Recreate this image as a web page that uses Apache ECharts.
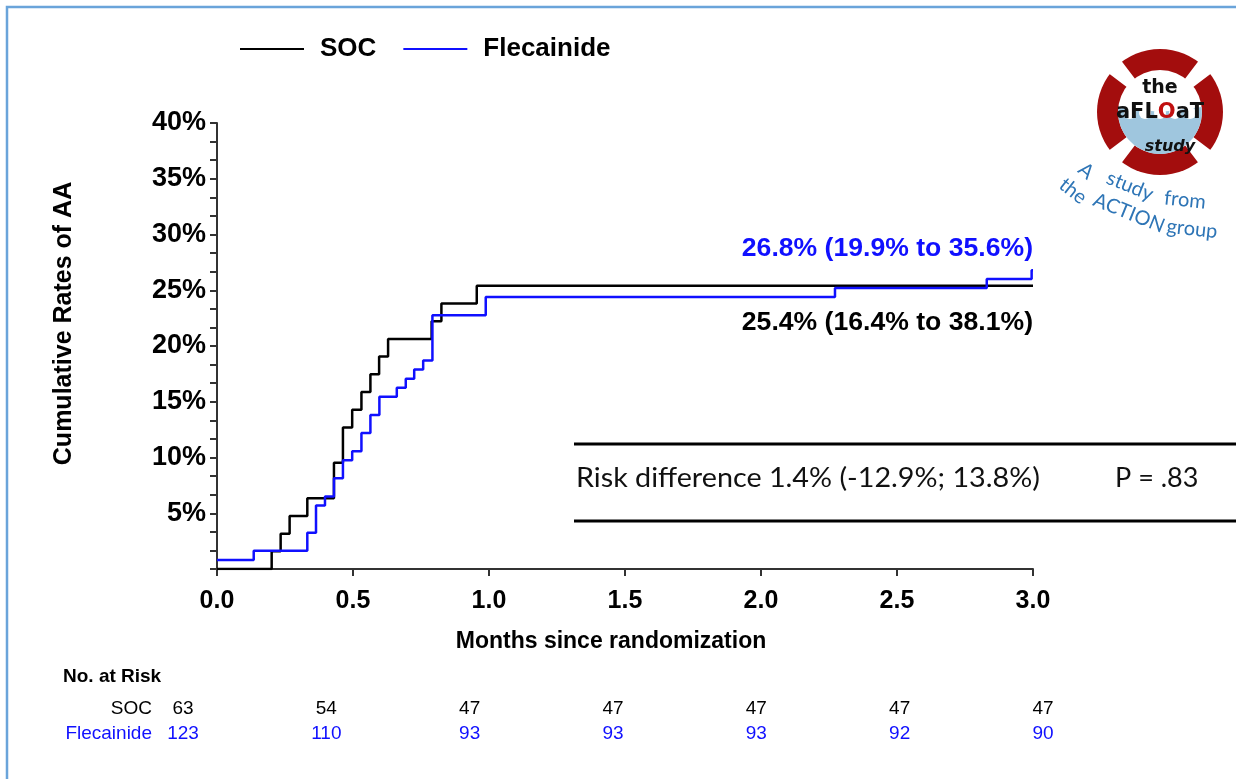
<!DOCTYPE html>
<html>
<head>
<meta charset="utf-8">
<script src="https://cdn.jsdelivr.net/npm/echarts@6/dist/echarts.min.js"></script>
<style>html,body{margin:0;padding:0;background:#fff}#c{width:1236px;height:779px}</style>
</head>
<body>
<div id="c"></div>
<script>
// ---- data ----
const socTimes  = [0, 0.201, 0.234, 0.267, 0.332, 0.430, 0.463, 0.497, 0.531, 0.564, 0.596, 0.629, 0.789, 0.825, 0.955, 3.0];
const socRates  = [0, 1.59, 3.17, 4.76, 6.35, 9.52, 12.70, 14.29, 15.87, 17.46, 19.05, 20.63, 22.22, 23.81, 25.40, 25.40];
const flecTimes = [0, 0.135, 0.332, 0.364, 0.397, 0.430, 0.463, 0.497, 0.531, 0.564, 0.597, 0.661, 0.694, 0.725, 0.758, 0.792, 0.988, 2.272, 2.830, 2.995, 3.0];
const flecRates = [0.81, 1.63, 3.25, 5.69, 6.50, 8.13, 9.76, 10.57, 12.20, 13.82, 15.45, 16.26, 17.07, 17.89, 18.70, 22.76, 24.39, 25.20, 26.02, 26.80, 26.80];
const riskCols  = [0, 0.5, 1.0, 1.5, 2.0, 2.5, 3.0];
const riskSOC   = [63, 54, 47, 47, 47, 47, 47];
const riskFlec  = [123, 110, 93, 93, 93, 92, 90];
const groups    = ['SOC', 'Flecainide'];
const flecLabel = '26.8% (19.9% to 35.6%)';
const socLabel  = '25.4% (16.4% to 38.1%)';
const riskText  = 'Risk difference 1.4% (-12.9%; 13.8%)';
const pText     = 'P = .83';

const BLUE = '#1010ff';
const F = 'Liberation Sans, Arial, sans-serif';
const chart = echarts.init(document.getElementById('c'), null, {renderer: 'canvas'});

const strapAngles = [45, 135, 225, 315];
const cx = 1160, cy = 112;
const deg = Math.PI / 180;
const blueTxt = (t, x, y, r) => ({type: 'text', x: x, y: y, rotation: -r * deg,
  style: {text: t, font: '20px Lato', fill: '#2e75b6', align: 'center', verticalAlign: 'middle'}});
const logo = [
  {type: 'circle', shape: {cx: cx, cy: cy, r: 63}, style: {fill: '#a30d0d'}},
  ...strapAngles.map(a => ({type: 'sector', shape: {cx: cx, cy: cy, r0: 40, r: 64,
      startAngle: (a - 8) * deg, endAngle: (a + 8) * deg}, style: {fill: '#ffffff'}})),
  {type: 'circle', shape: {cx: cx, cy: cy, r: 42}, style: {fill: '#ffffff'}},
  {type: 'sector', shape: {cx: cx, cy: cy, r0: 0, r: 42, startAngle: -0.12, endAngle: Math.PI + 0.12}, style: {fill: '#9fc6de'}},
  ...[-30, -15, 0, 15, 30].map(dx => ({type: 'circle', shape: {cx: cx + dx, cy: cy + 1, r: 6}, style: {fill: '#ffffff'}})),
  {type: 'text', x: cx, y: 88, style: {text: 'the', font: 'bold 19px DejaVu Sans', fill: '#111', align: 'center', verticalAlign: 'middle'}},
  {type: 'text', x: cx, y: 113, style: {text: '{a|aFL}{o|O}{a|aT}', align: 'center', verticalAlign: 'middle',
      rich: {a: {font: 'bold 21px DejaVu Sans', fill: '#111'}, o: {font: 'bold 21px DejaVu Sans', fill: '#c01010'}}}},
  {type: 'text', x: cx + 10, y: 147, style: {text: 'study', font: 'italic bold 16px DejaVu Sans', fill: '#111', align: 'center', verticalAlign: 'middle'}},
  blueTxt('A', 1086, 171, 40),
  blueTxt('study', 1130, 186, 22),
  blueTxt('from', 1185, 200, 6),
  blueTxt('the', 1073, 191, 38),
  blueTxt('ACTION', 1129, 213, 22),
  blueTxt('group', 1192, 229, 6)
];

const option = {
  backgroundColor: '#ffffff',
  animation: false,
  legend: {
    left: 240, top: 36, padding: 0,
    itemWidth: 64, itemHeight: 2, itemGap: 27, icon: 'rect',
    data: groups,
    textStyle: {fontFamily: F, fontWeight: 'bold', fontSize: 26, color: '#000', padding: [0, 0, 0, 11]}
  },
  grid: [
    {left: 217, right: 203, top: 123, bottom: 210, containLabel: false},
    {left: 183, right: 193, top: 696, height: 50, containLabel: false}
  ],
  xAxis: [
    {type: 'value', gridIndex: 0, min: 0, max: 3, interval: 0.5,
     name: 'Months since randomization', nameLocation: 'middle', nameGap: 61,
     nameTextStyle: {fontFamily: F, fontWeight: 'bold', fontSize: 23, color: '#000', padding: [0, 28, 0, 0]},
     axisLine: {lineStyle: {color: '#333', width: 2}},
     axisTick: {show: true, length: 7, inside: false, lineStyle: {color: '#333', width: 2}},
     axisLabel: {fontFamily: F, fontWeight: 'bold', fontSize: 25, color: '#000', margin: 20, formatter: v => v.toFixed(1)},
     splitLine: {show: false}},
    {type: 'value', gridIndex: 1, min: 0, max: 3, show: false}
  ],
  yAxis: [
    {type: 'value', gridIndex: 0, min: 0, max: 40, interval: 5,
     name: 'Cumulative Rates of AA', nameLocation: 'middle', nameGap: 140, nameRotate: 90,
     nameTextStyle: {fontFamily: F, fontWeight: 'bold', fontSize: 25, color: '#000', padding: [0, 0, 0, 45]},
     axisLine: {show: true, lineStyle: {color: '#333', width: 2}},
     axisTick: {show: true, length: 7, lineStyle: {color: '#333', width: 2}},
     minorTick: {show: true, splitNumber: 3, length: 7, lineStyle: {color: '#333', width: 2}},
     axisLabel: {fontFamily: F, fontWeight: 'bold', fontSize: 27, color: '#000', margin: 11,
                 formatter: v => v === 0 ? '' : v + '%'},
     splitLine: {show: false}},
    {type: 'category', gridIndex: 1, data: groups, inverse: true,
     axisLine: {show: false}, axisTick: {show: false}, splitLine: {show: false},
     axisLabel: {fontFamily: F, fontSize: 19, margin: 31, color: (v) => v === 'SOC' ? '#000' : BLUE}}
  ],
  series: [
    {name: 'SOC', type: 'line', step: 'end', xAxisIndex: 0, yAxisIndex: 0, showSymbol: false, symbol: 'none',
     data: socTimes.map((t, i) => [t, socRates[i]]),
     lineStyle: {color: '#000', width: 2.5}, itemStyle: {color: '#000'}},
    {name: 'Flecainide', type: 'line', step: 'end', xAxisIndex: 0, yAxisIndex: 0, showSymbol: false, symbol: 'none',
     data: flecTimes.map((t, i) => [t, flecRates[i]]),
     lineStyle: {color: BLUE, width: 2.5}, itemStyle: {color: BLUE}},
    {type: 'scatter', xAxisIndex: 1, yAxisIndex: 1, symbolSize: 0, silent: true,
     data: riskCols.map((t, i) => [t, 'SOC', riskSOC[i]]),
     label: {show: true, position: 'inside', formatter: p => p.value[2], fontFamily: F, fontSize: 19,
             color: '#000', textBorderWidth: 0, opacity: 1}},
    {type: 'scatter', xAxisIndex: 1, yAxisIndex: 1, symbolSize: 0, silent: true,
     data: riskCols.map((t, i) => [t, 'Flecainide', riskFlec[i]]),
     label: {show: true, position: 'inside', formatter: p => p.value[2], fontFamily: F, fontSize: 19,
             color: BLUE, textBorderWidth: 0, opacity: 1}}
  ],
  graphic: [
    {type: 'polyline', shape: {points: [[7, 779], [7, 7], [1236, 7]]}, style: {stroke: '#6aa4da', lineWidth: 2.5, fill: null}},
    {type: 'text', x: 1033, y: 249, style: {text: flecLabel, font: 'bold 26.6px ' + F, fill: BLUE, align: 'right', verticalAlign: 'middle'}},
    {type: 'text', x: 1033, y: 323, style: {text: socLabel, font: 'bold 26.6px ' + F, fill: '#000', align: 'right', verticalAlign: 'middle'}},
    {type: 'line', shape: {x1: 574, y1: 444, x2: 1236, y2: 444}, style: {stroke: '#000', lineWidth: 3}},
    {type: 'line', shape: {x1: 574, y1: 521, x2: 1236, y2: 521}, style: {stroke: '#000', lineWidth: 3}},
    {type: 'text', x: 576, y: 478, scaleX: 1.064, style: {text: riskText, font: '27px Lato', fill: '#111', align: 'left', verticalAlign: 'middle'}},
    {type: 'text', x: 1115, y: 478, style: {text: pText, font: '27px Lato', fill: '#111', align: 'left', verticalAlign: 'middle'}},
    {type: 'text', x: 63, y: 677, style: {text: 'No. at Risk', font: 'bold 19px ' + F, fill: '#000', align: 'left', verticalAlign: 'middle'}},
    ...logo
  ]
};
chart.setOption(option);
</script>
</body>
</html>
